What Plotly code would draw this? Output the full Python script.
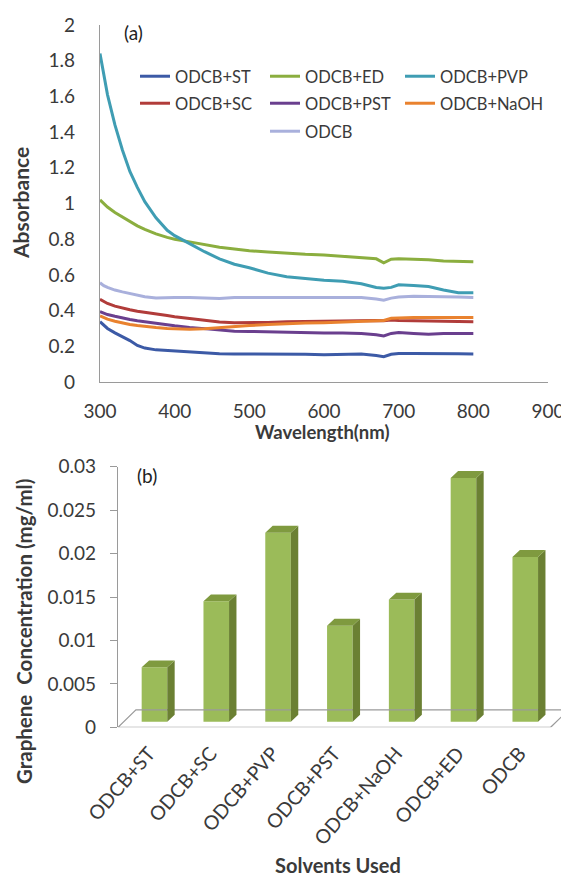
import plotly.graph_objects as go

# ---------------- data: panel (a) ----------------
wavelength = [300, 305, 310, 320, 330, 340, 350, 360, 375, 390, 400, 420, 440, 460, 480, 500,
              525, 550, 575, 600, 625, 650, 670, 680, 690, 700, 720, 740, 760, 780, 800]

abs_st = [0.338, 0.32, 0.30, 0.275, 0.255, 0.232, 0.205, 0.19, 0.18, 0.176, 0.173, 0.17, 0.165, 0.158, 0.157, 0.157,
          0.157, 0.157, 0.155, 0.152, 0.155, 0.157, 0.148, 0.142, 0.155, 0.16, 0.16, 0.158, 0.157, 0.158, 0.157]
abs_ed = [1.02, 1.0, 0.98, 0.95, 0.925, 0.90, 0.875, 0.855, 0.83, 0.81, 0.80, 0.785, 0.77, 0.755, 0.745, 0.735,
          0.728, 0.72, 0.715, 0.712, 0.705, 0.698, 0.69, 0.668, 0.688, 0.69, 0.688, 0.685, 0.678, 0.674, 0.674]
abs_pvp = [1.84, 1.72, 1.61, 1.44, 1.30, 1.18, 1.09, 1.01, 0.92, 0.85, 0.82, 0.775, 0.73, 0.69, 0.66, 0.64,
           0.61, 0.59, 0.58, 0.57, 0.565, 0.55, 0.53, 0.525, 0.53, 0.545, 0.54, 0.535, 0.515, 0.50, 0.50]
abs_sc = [0.463, 0.45, 0.44, 0.425, 0.413, 0.405, 0.396, 0.389, 0.381, 0.372, 0.366, 0.357, 0.345, 0.336, 0.332, 0.332,
          0.334, 0.338, 0.34, 0.342, 0.345, 0.347, 0.345, 0.343, 0.347, 0.345, 0.343, 0.343, 0.34, 0.338, 0.338]
abs_pst = [0.394, 0.385, 0.378, 0.368, 0.358, 0.35, 0.343, 0.337, 0.329, 0.32, 0.315, 0.306, 0.298, 0.289, 0.285, 0.283,
           0.28, 0.277, 0.276, 0.275, 0.274, 0.272, 0.265, 0.258, 0.272, 0.277, 0.272, 0.268, 0.272, 0.27, 0.272]
abs_naoh = [0.37, 0.36, 0.352, 0.34, 0.33, 0.322, 0.316, 0.31, 0.305, 0.30, 0.298, 0.295, 0.298, 0.305, 0.31, 0.316,
            0.322, 0.328, 0.33, 0.332, 0.335, 0.338, 0.34, 0.345, 0.357, 0.36, 0.362, 0.362, 0.362, 0.362, 0.362]
abs_odcb = [0.556, 0.54, 0.53, 0.515, 0.505, 0.495, 0.487, 0.478, 0.47, 0.474, 0.474, 0.474, 0.472, 0.468, 0.474, 0.474,
            0.474, 0.474, 0.474, 0.474, 0.474, 0.474, 0.465, 0.458, 0.47, 0.476, 0.48, 0.48, 0.478, 0.476, 0.474]

series_names = ["ODCB+ST", "ODCB+ED", "ODCB+PVP", "ODCB+SC", "ODCB+PST", "ODCB+NaOH", "ODCB"]
series_values = [abs_st, abs_ed, abs_pvp, abs_sc, abs_pst, abs_naoh, abs_odcb]
series_colors = ["#3c5aa6", "#8bae3f", "#3f9db3", "#b13c3a", "#6a3f8e", "#e9822f", "#a9b0dc"]
# legend slot (column, row) of each series
legend_col = [0, 1, 2, 0, 1, 2, 1]
legend_row = [0, 0, 0, 1, 1, 1, 2]

y_ticks_a = [0, 0.2, 0.4, 0.6, 0.8, 1, 1.2, 1.4, 1.6, 1.8, 2]
y_ticktext_a = ["0", "0.2", "0.4", "0.6", "0.8", "1", "1.2", "1.4", "1.6", "1.8", "2"]
x_ticks_a = [300, 400, 500, 600, 700, 800, 900]

# ---------------- data: panel (b) ----------------
solvents = ["ODCB+ST", "ODCB+SC", "ODCB+PVP", "ODCB+PST", "ODCB+NaOH", "ODCB+ED", "ODCB"]
concentration = [0.0069, 0.0145, 0.0224, 0.0117, 0.0147, 0.0287, 0.0196]
y_ticks_b = [0, 0.005, 0.01, 0.015, 0.02, 0.025, 0.03]
y_ticktext_b = ["0", "0.005", "0.01", "0.015", "0.02", "0.025", "0.03"]

FONT = "Lato, Carlito, 'Open Sans', sans-serif"
TXT = "#3a3a3a"
AX = "#9a9a9a"

W_PX, H_PX = 569, 877
OX, OY = 8, 8   # page body margin of the html page
def px_x(p):
    return (p - OX) / W_PX
def px_y(p):
    return 1 - (p - OY) / H_PX

fig = go.Figure()

# panel (a) lines, each in its own single-entry legend
legend_layout = {}
line_order = [0, 3, 1, 4, 2, 5, 6]  # drawing order
col_text_x = [175, 305, 440]
row_top_y = [59, 86, 114]
for i in line_order:
    key = "legend" if i == 0 else "legend%d" % (i + 1)
    fig.add_trace(go.Scatter(
        x=wavelength, y=series_values[i], mode="lines", name=series_names[i],
        line=dict(color=series_colors[i], width=3), legend=key,
        xaxis="x", yaxis="y", hoverinfo="skip"))
    legend_layout[key] = dict(
        x=px_x(col_text_x[legend_col[i]] - 40), y=px_y(row_top_y[legend_row[i]]),
        xanchor="left", yanchor="top", orientation="h", bgcolor="rgba(0,0,0,0)",
        font=dict(size=16.5, color=TXT), itemwidth=30)

# panel (b) pseudo-3D bars
n = len(solvents)
xi = list(range(n))
BASE = 0.00064      # bars stand in the middle of the floor depth
OFF = -0.117        # left edge of front face relative to category centre
W = 0.414           # front face width (category units)
DX = 0.12           # depth offset (category units)
DY = 0.0008         # depth offset (value units)
FLOOR_DX = 0.29
FLOOR_DY = 0.002

fig.add_trace(go.Scatter(
    x=[-0.5, 6.5, 6.5 + FLOOR_DX, -0.5 + FLOOR_DX, -0.5],
    y=[0, 0, FLOOR_DY, FLOOR_DY, 0],
    mode="lines", line=dict(color=AX, width=1.2),
    showlegend=False, xaxis="x2", yaxis="y2", hoverinfo="skip"))

fig.add_trace(go.Bar(
    x=xi, y=[v - BASE for v in concentration], base=BASE, width=W, offset=OFF,
    marker=dict(color="#9bbb59", line=dict(width=0)), showlegend=False,
    xaxis="x2", yaxis="y2", hoverinfo="skip"))

side_x, side_y, top_x, top_y = [], [], [], []
for i, v in zip(xi, concentration):
    xl = i + OFF
    xr = xl + W
    side_x += [xr, xr + DX, xr + DX, xr, xr, None]
    side_y += [BASE, BASE + DY, v + DY, v, BASE, None]
    top_x += [xl, xl + DX, xr + DX, xr, xl, None]
    top_y += [v, v + DY, v + DY, v, v, None]
fig.add_trace(go.Scatter(x=side_x, y=side_y, mode="lines", fill="toself", fillcolor="#6b8033",
                         line=dict(width=0, color="#6b8033"), showlegend=False,
                         xaxis="x2", yaxis="y2", hoverinfo="skip"))
fig.add_trace(go.Scatter(x=top_x, y=top_y, mode="lines", fill="toself", fillcolor="#7f9a3f",
                         line=dict(width=0, color="#7f9a3f"), showlegend=False,
                         xaxis="x2", yaxis="y2", hoverinfo="skip"))

xr_max = -0.5 + (W_PX + OX - 118) / 61.8

def label(text, x, y, size=18, angle=0, color=TXT):
    return dict(text=text, x=px_x(x), y=px_y(y), xref="paper", yref="paper", showarrow=False,
                xanchor="center", yanchor="middle", textangle=angle,
                font=dict(size=size, color=color))

fig.update_layout(
    width=W_PX, height=H_PX,
    margin=dict(l=0, r=0, t=0, b=0, autoexpand=False),
    paper_bgcolor="white", plot_bgcolor="white",
    font=dict(family=FONT, size=18, color=TXT),
    showlegend=True,
    xaxis=dict(domain=[px_x(100), px_x(548)], range=[300, 900], tickvals=x_ticks_a,
               showline=True, linecolor=AX, linewidth=1.2, showgrid=False, zeroline=False,
               ticks="", ticklabelstandoff=12, anchor="y", automargin=False, tickfont=dict(size=19)),
    yaxis=dict(domain=[px_y(382), px_y(25)], range=[0, 2], tickvals=y_ticks_a, ticktext=y_ticktext_a,
               showline=True, linecolor=AX, linewidth=1.2, showgrid=False, zeroline=False,
               ticks="", ticklabelstandoff=20, anchor="x", automargin=False, tickfont=dict(size=19)),
    xaxis2=dict(domain=[px_x(118), 1.0], range=[-0.5, xr_max], tickvals=xi, ticktext=solvents,
                tickangle=-49, showline=False, showgrid=False, zeroline=False, ticks="",
                ticklabelstandoff=10, anchor="y2", tickfont=dict(size=19.5), automargin=False),
    xaxis3=dict(domain=[px_x(118), 1.0], range=[-0.5, xr_max], overlaying="x2", anchor="y2",
                tickvals=[i - 0.5 for i in range(n + 1)], showticklabels=False, ticks="outside",
                ticklen=8, tickcolor=AX, tickwidth=1.2, showline=False, showgrid=False, zeroline=False,
                automargin=False),
    yaxis2=dict(domain=[px_y(727.3), px_y(466.7)], range=[0, 0.03], tickvals=y_ticks_b,
                ticktext=y_ticktext_b, showline=True, linecolor=AX, linewidth=1.2, showgrid=False,
                zeroline=False, ticks="outside", ticklen=7, tickcolor=AX, tickwidth=1.2,
                ticklabelstandoff=10, anchor="x2", automargin=False, tickfont=dict(size=19)),
    annotations=[
        label("(a)", 133, 33, size=19, color="#222"),
        label("(b)", 147, 475, size=19, color="#222"),
        label("<b>Absorbance</b>", 21, 203, size=21, angle=-90),
        label("<b>Wavelength(nm)</b>", 322, 432, size=18.5),
        label("<b>Graphene  Concentration (mg/ml)</b>", 24, 632, size=20.5, angle=-90),
        label("<b>Solvents Used</b>", 338, 865, size=20),
    ],
    **legend_layout,
)

fig.write_html("out.html")
